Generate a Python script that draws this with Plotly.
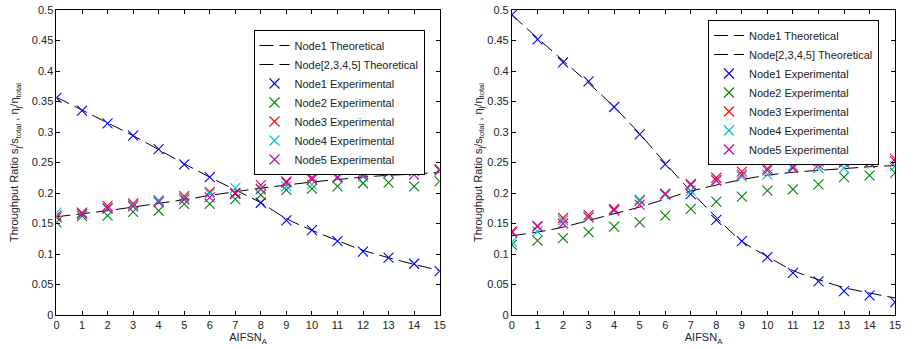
import plotly.graph_objects as go

x_vals = list(range(16))

# Left panel
left_node1_theory = [0.357, 0.336, 0.315, 0.294, 0.271, 0.248, 0.226, 0.205, 0.184, 0.158, 0.139, 0.122, 0.106, 0.094, 0.083, 0.073]
left_nodes_theory = [0.161, 0.166, 0.171, 0.177, 0.183, 0.189, 0.196, 0.202, 0.208, 0.213, 0.218, 0.222, 0.226, 0.229, 0.231, 0.234]
left_node1_exp = [0.356, 0.335, 0.314, 0.294, 0.272, 0.247, 0.226, 0.199, 0.184, 0.155, 0.139, 0.121, 0.104, 0.094, 0.084, 0.072]
left_node2_exp = [0.152, 0.162, 0.163, 0.169, 0.171, 0.182, 0.182, 0.190, 0.197, 0.205, 0.207, 0.211, 0.216, 0.217, 0.211, 0.219]
left_node3_exp = [0.163, 0.168, 0.179, 0.183, 0.188, 0.195, 0.202, 0.200, 0.213, 0.219, 0.222, 0.226, 0.234, 0.236, 0.236, 0.239]
left_node4_exp = [0.168, 0.166, 0.174, 0.180, 0.187, 0.192, 0.199, 0.208, 0.207, 0.211, 0.214, 0.224, 0.227, 0.232, 0.241, 0.237]
left_node5_exp = [0.160, 0.166, 0.175, 0.178, 0.185, 0.189, 0.193, 0.199, 0.206, 0.217, 0.225, 0.226, 0.230, 0.233, 0.230, 0.237]

# Right panel
right_node1_theory = [0.492, 0.454, 0.417, 0.380, 0.341, 0.297, 0.249, 0.203, 0.160, 0.121, 0.096, 0.073, 0.058, 0.045, 0.036, 0.028]
right_nodes_theory = [0.130, 0.136, 0.144, 0.155, 0.166, 0.177, 0.190, 0.203, 0.213, 0.222, 0.229, 0.234, 0.237, 0.240, 0.243, 0.245]
right_node1_exp = [0.492, 0.452, 0.414, 0.383, 0.341, 0.296, 0.247, 0.198, 0.156, 0.121, 0.095, 0.069, 0.055, 0.039, 0.032, 0.021]
right_node2_exp = [0.115, 0.122, 0.126, 0.136, 0.145, 0.152, 0.163, 0.174, 0.186, 0.194, 0.204, 0.206, 0.214, 0.226, 0.229, 0.233]
right_node3_exp = [0.137, 0.145, 0.159, 0.164, 0.174, 0.187, 0.199, 0.215, 0.225, 0.235, 0.240, 0.242, 0.252, 0.253, 0.250, 0.256]
right_node4_exp = [0.120, 0.137, 0.155, 0.160, 0.171, 0.189, 0.197, 0.204, 0.220, 0.227, 0.230, 0.245, 0.241, 0.241, 0.249, 0.244]
right_node5_exp = [0.135, 0.146, 0.150, 0.160, 0.172, 0.181, 0.198, 0.213, 0.221, 0.230, 0.237, 0.241, 0.246, 0.250, 0.250, 0.252]

y_tickvals = [0, 0.05, 0.1, 0.15, 0.2, 0.25, 0.3, 0.35, 0.4, 0.45, 0.5]
y_ticktext = ["0", "0.05", "0.1", "0.15", "0.2", "0.25", "0.3", "0.35", "0.4", "0.45", "0.5"]

exp_names = ["Node1 Experimental", "Node2 Experimental", "Node3 Experimental",
             "Node4 Experimental", "Node5 Experimental"]
exp_colors = ["#0000ff", "#008000", "#ff0000", "#00bfbf", "#bf00bf"]

fig = go.Figure()

panels = [
    ("x", "y", "legend", left_node1_theory, left_nodes_theory,
     [left_node1_exp, left_node2_exp, left_node3_exp, left_node4_exp, left_node5_exp]),
    ("x2", "y2", "legend2", right_node1_theory, right_nodes_theory,
     [right_node1_exp, right_node2_exp, right_node3_exp, right_node4_exp, right_node5_exp]),
]

for xa, ya, lg, th1, thn, exps in panels:
    fig.add_trace(go.Scatter(x=x_vals, y=th1, mode="lines", name="Node1 Theoretical",
                             line=dict(color="black", width=1, dash="14px,6px", shape="spline"),
                             xaxis=xa, yaxis=ya, legend=lg))
    fig.add_trace(go.Scatter(x=x_vals, y=thn, mode="lines", name="Node[2,3,4,5] Theoretical",
                             line=dict(color="black", width=1, dash="14px,6px", shape="spline"),
                             xaxis=xa, yaxis=ya, legend=lg))
    for name, col, vals in zip(exp_names, exp_colors, exps):
        fig.add_trace(go.Scatter(x=x_vals, y=vals, mode="markers", name=name,
                                 marker=dict(symbol="x-thin", size=10,
                                             line=dict(color=col, width=1.1), color=col),
                                 xaxis=xa, yaxis=ya, legend=lg))

axis_common = dict(showline=True, linecolor="black", linewidth=1, mirror="ticks",
                   ticks="inside", ticklen=4, tickcolor="black", showgrid=False,
                   zeroline=False, tickfont=dict(size=11, color="#222222"))

ytitle = "Throughput Ratio s<sub>j</sub>/s<sub>total</sub> , η<sub>j</sub>/η<sub>total</sub>"

fig.update_layout(
    width=913, height=349,
    margin=dict(l=0, r=0, t=10, b=34),
    paper_bgcolor="white", plot_bgcolor="white",
    font=dict(family="Liberation Sans, Arial, sans-serif", size=11, color="#222222"),
    xaxis=dict(domain=[54/913, 441/913], range=[0, 15], tickvals=x_vals,
               title=dict(text="AIFSN<sub>A</sub>", standoff=2, font=dict(size=11)), **axis_common),
    xaxis2=dict(domain=[514/913, 901/913], range=[0, 15], tickvals=x_vals,
                title=dict(text="AIFSN<sub>A</sub>", standoff=2, font=dict(size=11)), **axis_common),
    yaxis=dict(range=[0, 0.5], tickvals=y_tickvals, ticktext=y_ticktext, anchor="x",
               title=dict(text=ytitle, standoff=10, font=dict(size=11)), **axis_common),
    yaxis2=dict(range=[0, 0.5], tickvals=y_tickvals, ticktext=y_ticktext, anchor="x2",
                title=dict(text=ytitle, standoff=2, font=dict(size=11)), **axis_common),
    legend=dict(x=253/913, y=(315-30)/305, xanchor="left", yanchor="top",
                bgcolor="white", bordercolor="black", borderwidth=1,
                font=dict(size=11, color="#222222"), tracegroupgap=0, itemwidth=30),
    legend2=dict(x=712/913, y=(315-20)/305, xanchor="left", yanchor="top",
                 bgcolor="white", bordercolor="black", borderwidth=1,
                 font=dict(size=11, color="#222222"), tracegroupgap=0, itemwidth=30),
    showlegend=True,
)

fig.write_html("out.html", config={"displayModeBar": False},
               post_script="document.body.style.margin='0';document.body.style.overflow='hidden';")
